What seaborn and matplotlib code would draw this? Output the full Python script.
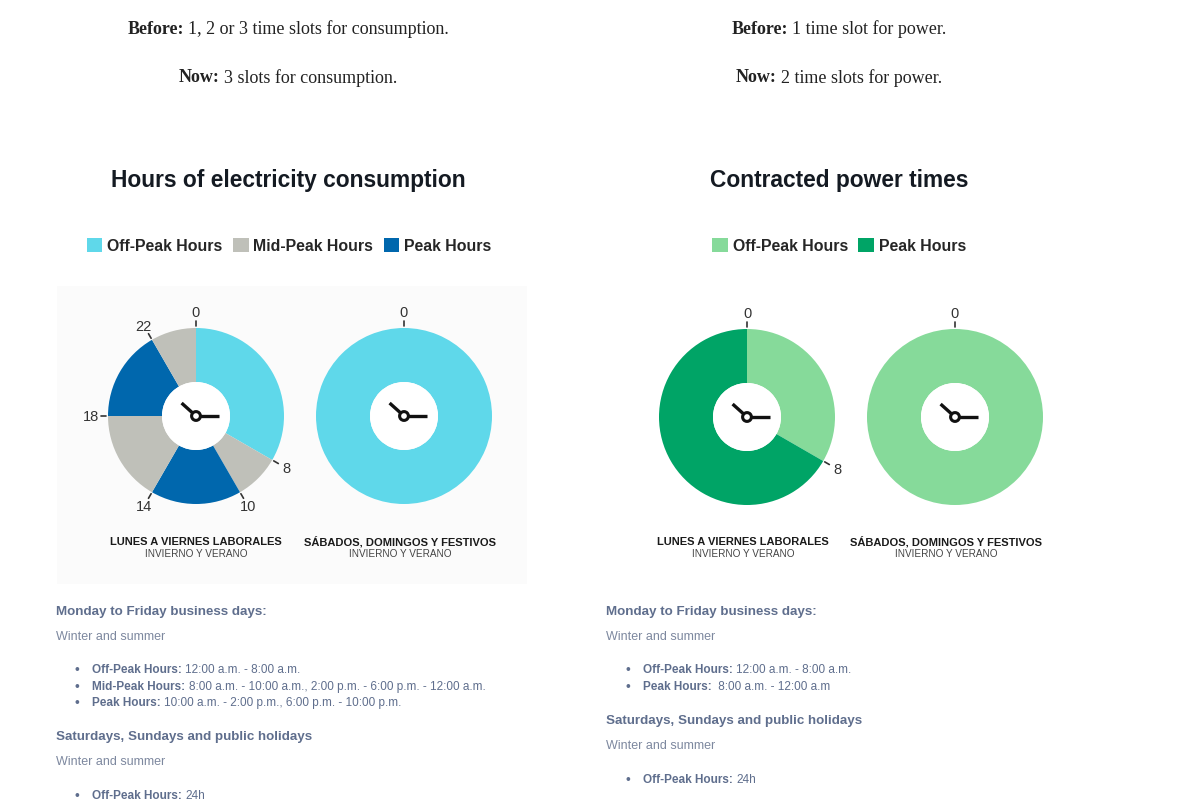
import numpy as np
import matplotlib
matplotlib.use('Agg')
import matplotlib.pyplot as plt
from matplotlib.patches import Patch, Rectangle, Circle
import seaborn as sns

# consumption clock, weekdays (hours per band, clockwise from midnight)
cons_hours = [8, 2, 4, 4, 4, 2]
cons_bands = ['Off-Peak Hours', 'Mid-Peak Hours', 'Peak Hours',
              'Mid-Peak Hours', 'Peak Hours', 'Mid-Peak Hours']
cons_ticks = [0, 8, 10, 14, 18, 22]

# consumption clock, weekends
cons_we_hours = [24]
cons_we_bands = ['Off-Peak Hours']
cons_we_ticks = [0]

# power clock, weekdays / weekends
power_hours = [8, 16]
power_bands = ['Off-Peak Hours', 'Peak Hours']
power_ticks = [0, 8]
power_we_hours = [24]
power_we_bands = ['Off-Peak Hours']
power_we_ticks = [0]

cons_legend = ['Off-Peak Hours', 'Mid-Peak Hours', 'Peak Hours']
power_legend = ['Off-Peak Hours', 'Peak Hours']
cons_pal = dict(zip(cons_legend, sns.color_palette(['#5fd8ea', '#bfc0b9', '#0067ad'])))
power_pal = dict(zip(power_legend, sns.color_palette(['#86da9a', '#00a466'])))

day_caption = 'LUNES A VIERNES LABORALES'
we_caption = 'SÁBADOS, DOMINGOS Y FESTIVOS'
season_caption = 'INVIERNO Y VERANO'

sns.set_theme(style='white')
plt.rcParams['font.family'] = ['Liberation Sans', 'DejaVu Sans']

W, H = 1179, 812
fig = plt.figure(figsize=(W / 100, H / 100), dpi=100)
fig.patch.set_facecolor('white')
renderer = fig.canvas.get_renderer()

SLATE = '#5f6e8d'
LIGHT = '#7d889f'


def fx(x):
    return x / W


def fy(y):
    return 1 - y / H


def rich(x, y, parts, ha='left', gap=0.22, **kw):
    # parts: list of (text, weight); drawn side by side
    items = []
    for s, wt in parts:
        t = fig.text(0, fy(y), s, fontweight=wt, va='center', ha='left', **kw)
        w = t.get_window_extent(renderer).width
        items.append((t, w))
    sp = gap * kw.get('fontsize', 10) * 100 / 72
    total = sum(w for _, w in items) + sp * (len(items) - 1)
    start = x if ha == 'left' else x - total / 2
    for t, w in items:
        t.set_x(fx(start))
        start += w + sp


def clock(cx, cy, hours, bands, pal, ticks):
    R = 88.0
    S = 240
    ax = fig.add_axes([fx(cx - S / 2), fy(cy + S / 2), S / W, S / H])
    ax.pie(hours, colors=[pal[b] for b in bands], startangle=90, counterclock=False,
           radius=1, wedgeprops=dict(width=1 - 34 / R, edgecolor='none', linewidth=0))
    lim = S / 2 / R
    ax.set_xlim(-lim, lim)
    ax.set_ylim(-lim, lim)
    ax.set_aspect('equal')
    ax.axis('off')
    ax.add_patch(Circle((0, 0), 34 / R, facecolor='white', edgecolor='none', zorder=1))
    for h in ticks:
        a = np.deg2rad(90 - h * 15)
        ax.plot([1.02 * np.cos(a), 1.08 * np.cos(a)], [1.02 * np.sin(a), 1.08 * np.sin(a)],
                color='#333333', lw=1.2, clip_on=False)
        ax.text(1.19 * np.cos(a), 1.18 * np.sin(a), str(h), ha='center', va='center',
                fontsize=10.5, color='#333333')
    # clock hands
    a = np.deg2rad(138)
    ax.plot([0, 0.22 * np.cos(a)], [0, 0.22 * np.sin(a)], color='#111111', lw=2.4,
            solid_capstyle='butt', zorder=4)
    ax.plot([0.05, 0.26], [0, 0], color='#111111', lw=2.4, solid_capstyle='butt', zorder=4)
    ax.add_patch(Circle((0, 0), 0.05, facecolor='white', edgecolor='#111111', lw=2.2, zorder=5))
    return ax


def captions(cx, title):
    fig.text(fx(cx), fy(542), title, ha='center', va='center', fontsize=8,
             fontweight='heavy', color='#1a1a1a')
    fig.text(fx(cx), fy(554), season_caption, ha='center', va='center', fontsize=7.2,
             color='#444444')


# faint backdrop of the consumption image
fig.patches.append(Rectangle((fx(57), fy(585)), fx(527) - fx(57), fy(287) - fy(585),
                             transform=fig.transFigure, facecolor='#fbfbfb',
                             edgecolor='none', zorder=-1))

# header lines
serif = ['Liberation Serif', 'DejaVu Serif']
rich(288, 29, [('Before:', 'bold'), ('1, 2 or 3 time slots for consumption.', 'normal')],
     ha='center', fontsize=13, family=serif, color='#222222')
rich(288, 78, [('Now:', 'bold'), ('3 slots for consumption.', 'normal')],
     ha='center', fontsize=13, family=serif, color='#222222')
rich(839, 29, [('Before:', 'bold'), ('1 time slot for power.', 'normal')],
     ha='center', fontsize=13, family=serif, color='#222222')
rich(839, 78, [('Now:', 'bold'), ('2 time slots for power.', 'normal')],
     ha='center', fontsize=13, family=serif, color='#222222')

# titles
fig.text(fx(288), fy(181), 'Hours of electricity consumption', ha='center', va='center',
         fontsize=16.4, fontweight='bold', color='#141a22')
fig.text(fx(839), fy(181), 'Contracted power times', ha='center', va='center',
         fontsize=16.4, fontweight='bold', color='#141a22')

# legends
for labels, pal, cx in [(cons_legend, cons_pal, 289), (power_legend, power_pal, 839)]:
    handles = [Patch(facecolor=pal[l], edgecolor='none', label=l) for l in labels]
    fig.legend(handles=handles, loc='center', bbox_to_anchor=(fx(cx), fy(246.5)),
               ncol=len(labels), frameon=False, handlelength=1.0, handleheight=1.0,
               handletextpad=0.3, columnspacing=0.65, borderaxespad=0,
               prop={'weight': 'bold', 'size': 11.4})

# clocks
clock(196, 417, cons_hours, cons_bands, cons_pal, cons_ticks)
clock(404, 417, cons_we_hours, cons_we_bands, cons_pal, cons_we_ticks)
clock(747, 418, power_hours, power_bands, power_pal, power_ticks)
clock(955, 418, power_we_hours, power_we_bands, power_pal, power_we_ticks)
captions(196, day_caption)
captions(400, we_caption)
captions(743, day_caption)
captions(946, we_caption)


# schedule notes
def heading(x, y, s):
    fig.text(fx(x), fy(y), s, ha='left', va='center', fontsize=9.6, fontweight='bold',
             color=SLATE)


def para(x, y, s):
    fig.text(fx(x), fy(y), s, ha='left', va='center', fontsize=9, color=LIGHT)


def bullet(x, y, label, rest):
    fig.text(fx(x), fy(y), '•', ha='center', va='center', fontsize=10, color=SLATE)
    rich(x + 15, y, [(label, 'bold'), (rest, 'normal')], gap=0.3, fontsize=8.5, color=SLATE)


heading(56, 612, 'Monday to Friday business days:')
para(56, 637, 'Winter and summer')
bullet(77, 670, 'Off-Peak Hours:', '12:00 a.m. - 8:00 a.m.')
bullet(77, 687, 'Mid-Peak Hours:', '8:00 a.m. - 10:00 a.m., 2:00 p.m. - 6:00 p.m. - 12:00 a.m.')
bullet(77, 703, 'Peak Hours:', '10:00 a.m. - 2:00 p.m., 6:00 p.m. - 10:00 p.m.')
heading(56, 737, 'Saturdays, Sundays and public holidays')
para(56, 762, 'Winter and summer')
bullet(77, 796, 'Off-Peak Hours:', '24h')

heading(606, 612, 'Monday to Friday business days:')
para(606, 637, 'Winter and summer')
bullet(628, 670, 'Off-Peak Hours:', '12:00 a.m. - 8:00 a.m.')
bullet(628, 687, 'Peak Hours:', ' 8:00 a.m. - 12:00 a.m')
heading(606, 721, 'Saturdays, Sundays and public holidays')
para(606, 746, 'Winter and summer')
bullet(628, 780, 'Off-Peak Hours:', '24h')

fig.savefig('out.png', dpi=100, facecolor='white')
